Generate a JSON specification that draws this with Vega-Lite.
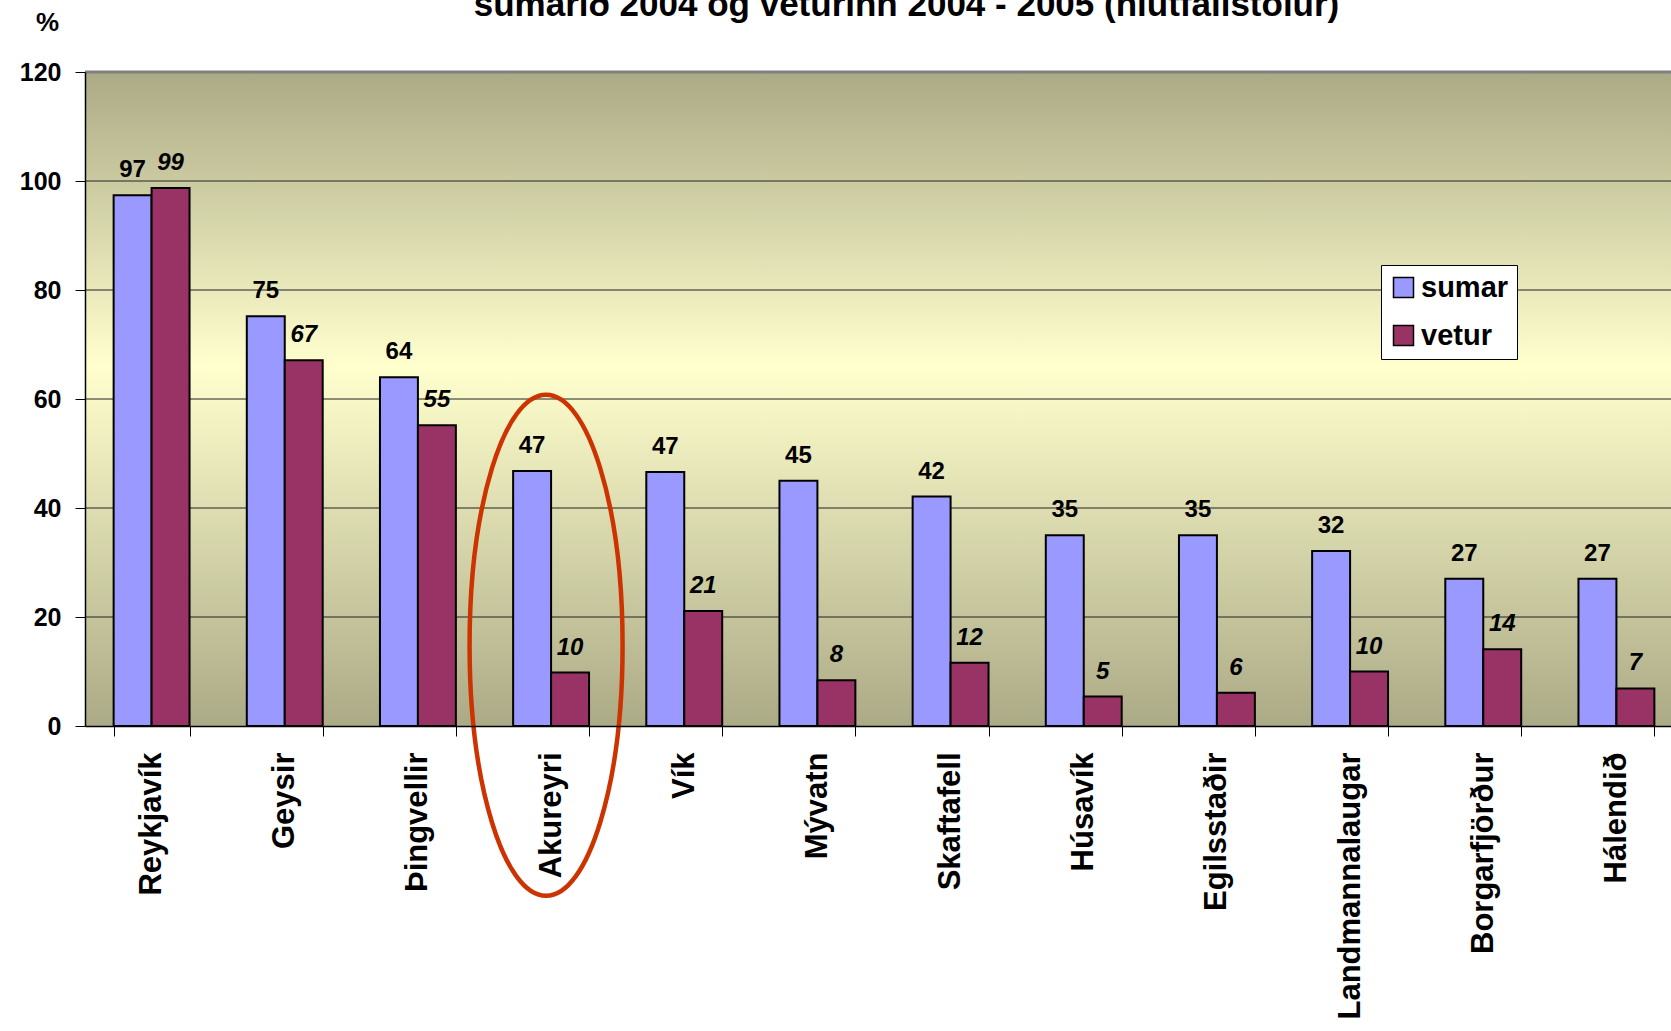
{
  "$schema": "https://vega.github.io/schema/vega-lite/v6.json",
  "autosize": {"type": "none"},
  "padding": {"left": 85, "top": 72, "right": 0, "bottom": 305},
  "width": 1598,
  "height": 654,
  "background": "white",
  "config": {
    "font": "Liberation Sans",
    "view": {
      "stroke": null,
      "fill": {
        "gradient": "linear",
        "x1": 0, "y1": 0, "x2": 0, "y2": 1,
        "stops": [
          {"offset": 0, "color": "#ABAA86"},
          {"offset": 0.45, "color": "#FFFFCE"},
          {"offset": 1, "color": "#ABAA86"}
        ]
      }
    }
  },
  "resolve": {"axis": {"x": "independent"}},
  "datasets": {
    "bars": [
      {"place": "Reykjavík", "season": "sumar", "value": 97.4},
      {"place": "Reykjavík", "season": "vetur", "value": 98.7},
      {"place": "Geysir", "season": "sumar", "value": 75.2},
      {"place": "Geysir", "season": "vetur", "value": 67.1},
      {"place": "Þingvellir", "season": "sumar", "value": 64.0},
      {"place": "Þingvellir", "season": "vetur", "value": 55.2},
      {"place": "Akureyri", "season": "sumar", "value": 46.8},
      {"place": "Akureyri", "season": "vetur", "value": 9.8},
      {"place": "Vík", "season": "sumar", "value": 46.6},
      {"place": "Vík", "season": "vetur", "value": 21.1},
      {"place": "Mývatn", "season": "sumar", "value": 45.0},
      {"place": "Mývatn", "season": "vetur", "value": 8.4},
      {"place": "Skaftafell", "season": "sumar", "value": 42.1},
      {"place": "Skaftafell", "season": "vetur", "value": 11.6},
      {"place": "Húsavík", "season": "sumar", "value": 35.0},
      {"place": "Húsavík", "season": "vetur", "value": 5.4},
      {"place": "Egilsstaðir", "season": "sumar", "value": 35.0},
      {"place": "Egilsstaðir", "season": "vetur", "value": 6.1},
      {"place": "Landmannalaugar", "season": "sumar", "value": 32.1},
      {"place": "Landmannalaugar", "season": "vetur", "value": 10.0},
      {"place": "Borgarfjörður", "season": "sumar", "value": 27.0},
      {"place": "Borgarfjörður", "season": "vetur", "value": 14.1},
      {"place": "Hálendið", "season": "sumar", "value": 27.0},
      {"place": "Hálendið", "season": "vetur", "value": 6.9}
    ],
    "gridlines": [{"level": 20}, {"level": 40}, {"level": 60}, {"level": 80}, {"level": 100}],
    "topline": [{"level": 120}],
    "highlight": [{"place": "Akureyri", "centre": 14.8}]
  },
  "layer": [
    {
      "data": {"name": "gridlines"},
      "mark": {"type": "rule", "color": "#222222", "strokeWidth": 1},
      "encoding": {"y": {"field": "level", "type": "quantitative"}}
    },
    {
      "data": {"name": "topline"},
      "mark": {"type": "rule", "color": "#808080", "strokeWidth": 3},
      "encoding": {"y": {"field": "level", "type": "quantitative"}}
    },
    {
      "data": {"name": "bars"},
      "mark": {"type": "bar", "stroke": "black", "strokeWidth": 2},
      "encoding": {
        "x": {
          "field": "place",
          "type": "nominal",
          "sort": null,
          "scale": {
            "domain": ["Reykjavík", "Geysir", "Þingvellir", "Akureyri", "Vík", "Mývatn", "Skaftafell", "Húsavík", "Egilsstaðir", "Landmannalaugar", "Borgarfjörður", "Hálendið"],
            "paddingInner": 0.43,
            "paddingOuter": 0.215
          },
          "axis": {
            "title": null,
            "orient": "bottom",
            "labelAngle": -90,
            "labelFontSize": 31,
            "labelFontWeight": "bold",
            "labelColor": "black",
            "labelPadding": 16,
            "labelLimit": 600,
            "tickBand": "extent",
            "tickSize": 10,
            "tickColor": "black",
            "tickWidth": 1,
            "domainColor": "black",
            "domainWidth": 1.5,
            "grid": false,
            "zindex": 1
          }
        },
        "xOffset": {"field": "season", "type": "nominal", "scale": {"paddingInner": 0, "paddingOuter": 0}},
        "y": {
          "field": "value",
          "type": "quantitative",
          "scale": {"domain": [0, 120], "nice": false},
          "axis": {
            "title": "%",
            "titleAngle": 0,
            "titleX": -38,
            "titleY": -42,
            "titleAlign": "center",
            "titleBaseline": "alphabetic",
            "titleFontSize": 26,
            "titleFontWeight": "bold",
            "titleColor": "black",
            "values": [0, 20, 40, 60, 80, 100, 120],
            "labelFontSize": 25,
            "labelFontWeight": "bold",
            "labelColor": "black",
            "labelPadding": 14,
            "tickSize": 10,
            "tickColor": "black",
            "domainColor": "black",
            "domainWidth": 1.5,
            "grid": false,
            "zindex": 1
          }
        },
        "color": {
          "field": "season",
          "type": "nominal",
          "scale": {"domain": ["sumar", "vetur"], "range": ["#9999FF", "#993366"]},
          "legend": {
            "title": null,
            "orient": "none",
            "legendX": 1296,
            "legendY": 193,
            "symbolType": "square",
            "symbolSize": 400,
            "symbolStrokeColor": "black",
            "symbolStrokeWidth": 1.5,
            "symbolOpacity": 1,
            "labelFontSize": 29,
            "labelFontWeight": "bold",
            "labelColor": "black",
            "labelOffset": 3,
            "labelLimit": 300,
            "rowPadding": 18,
            "padding": 8,
            "fillColor": "white",
            "strokeColor": "black"
          }
        }
      }
    },
    {
      "data": {"name": "bars"},
      "transform": [{"filter": "datum.season === 'sumar'"}],
      "mark": {"type": "text", "fontSize": 24, "fontWeight": "bold", "color": "black", "baseline": "alphabetic", "dy": -18},
      "encoding": {
        "x": {"field": "place", "type": "nominal", "sort": null, "axis": null},
        "xOffset": {"field": "season", "type": "nominal"},
        "y": {"field": "value", "type": "quantitative"},
        "text": {"field": "value", "type": "quantitative", "format": ".0f"}
      }
    },
    {
      "data": {"name": "bars"},
      "transform": [{"filter": "datum.season === 'vetur'"}],
      "mark": {"type": "text", "fontSize": 24, "fontWeight": "bold", "fontStyle": "italic", "color": "black", "baseline": "alphabetic", "dy": -18},
      "encoding": {
        "x": {"field": "place", "type": "nominal", "sort": null, "axis": null},
        "xOffset": {"field": "season", "type": "nominal"},
        "y": {"field": "value", "type": "quantitative"},
        "text": {"field": "value", "type": "quantitative", "format": ".0f"}
      }
    },
    {
      "data": {"name": "highlight"},
      "mark": {
        "type": "point",
        "shape": "M 0 -1 A 0.3054 1 0 1 1 0 1 A 0.3054 1 0 1 1 0 -1 Z",
        "size": 251001,
        "filled": false,
        "stroke": "#CC3300",
        "strokeWidth": 4.5,
        "opacity": 1,
        "xOffset": -5
      },
      "encoding": {
        "x": {
          "field": "place",
          "type": "nominal",
          "sort": null,
          "axis": {
            "orient": "top",
            "title": "sumarið 2004 og veturinn 2004 - 2005 (hlutfallstölur)",
            "titleFont": "Liberation Sans",
            "titleFontSize": 35,
            "titleFontWeight": "bold",
            "titleColor": "black",
            "titleAngle": 0,
            "titleX": 821,
            "titleY": -57,
            "titleAlign": "center",
            "titleBaseline": "alphabetic",
            "labels": false,
            "ticks": false,
            "domain": false,
            "grid": false
          }
        },
        "y": {"field": "centre", "type": "quantitative"}
      }
    }
  ]
}
